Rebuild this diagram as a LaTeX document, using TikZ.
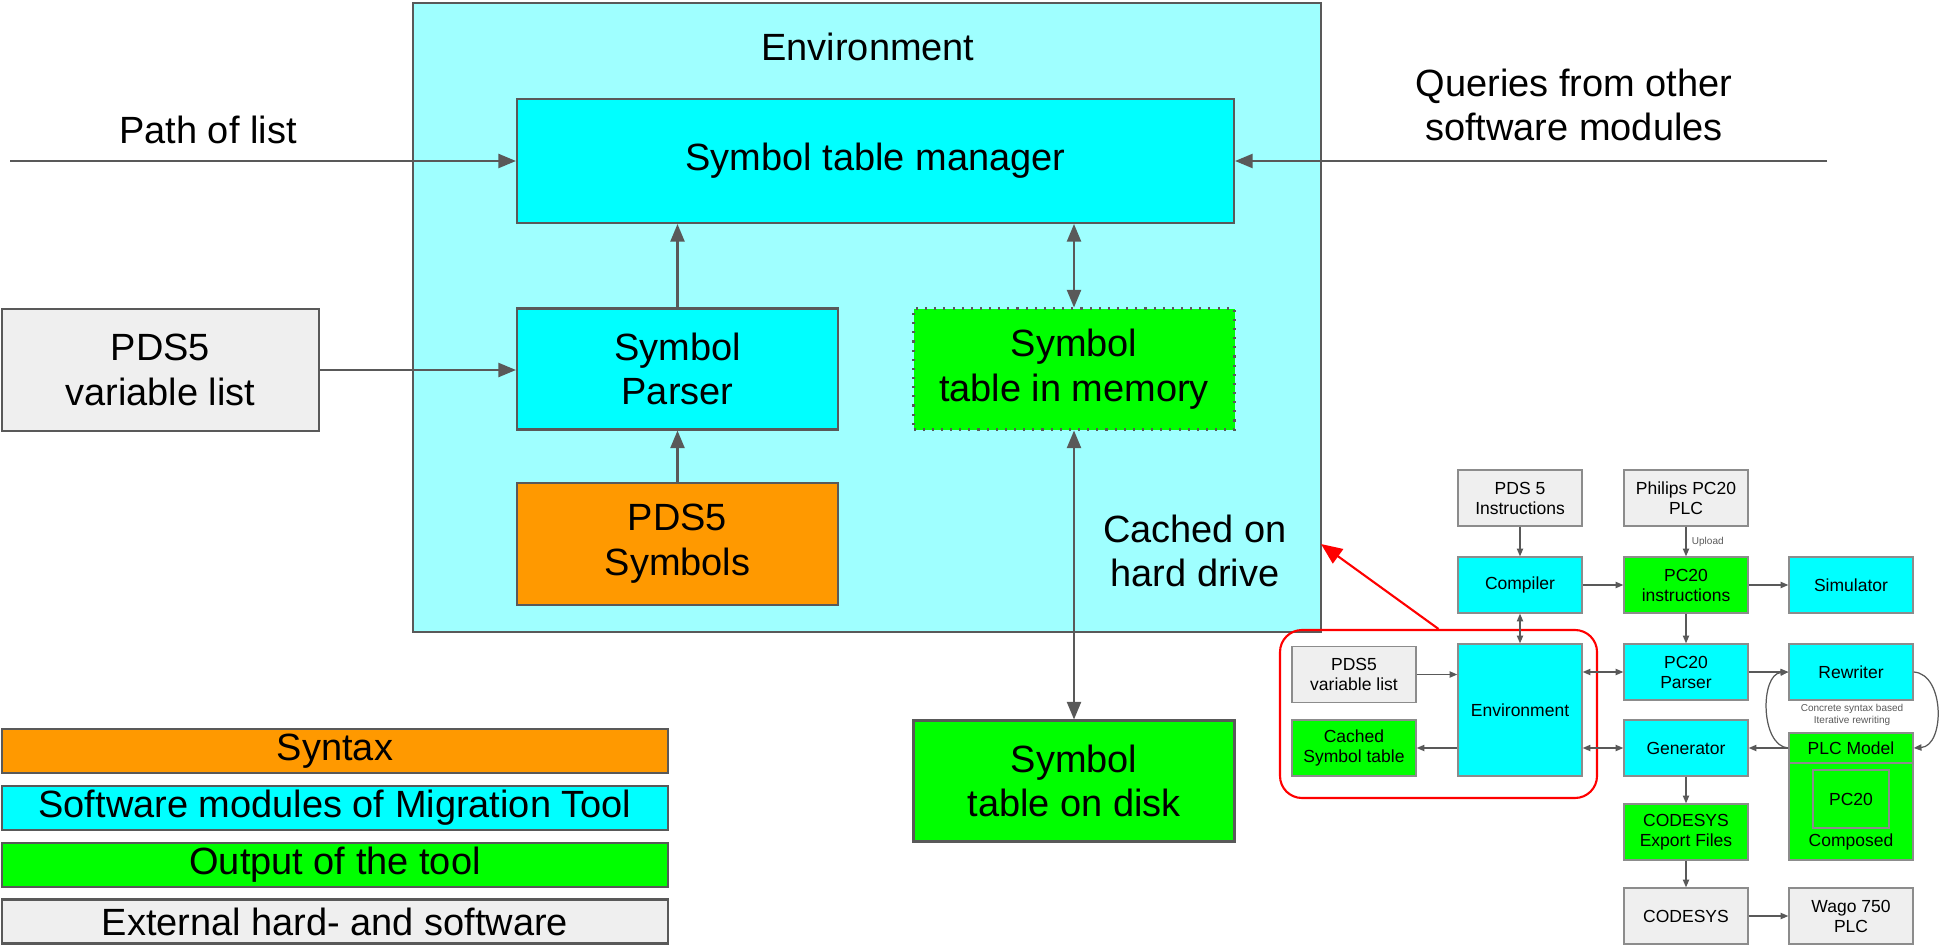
\documentclass[tikz,border=0pt]{standalone}
\usepackage{fontspec}
\setmainfont{Liberation Sans}
\usetikzlibrary{arrows.meta,calc,positioning}
\definecolor{envcyan}{HTML}{9FFFFF}
\definecolor{modcyan}{HTML}{00FFFF}
\definecolor{outgreen}{HTML}{00FF00}
\definecolor{synorange}{HTML}{FF9900}
\definecolor{extgrey}{HTML}{EFEFEF}
\definecolor{linegrey}{HTML}{595959}
\definecolor{boxgrey}{HTML}{8C8C8C}

\begin{document}
\begin{tikzpicture}[
  box/.style={draw=linegrey, line width=0.6pt, inner sep=0pt, align=center,
    font=\fontsize{10.8}{12.7}\selectfont},
  bigtext/.style={inner sep=0pt, align=center, font=\fontsize{10.8}{12.7}\selectfont},
  leg/.style={box, minimum width=6.66cm, minimum height=0.44cm},
  mid/.style={minimum width=3.21cm, minimum height=1.21cm},
  sbox/.style={draw=boxgrey, line width=0.4pt, inner sep=0pt, align=center,
    font=\fontsize{4.98}{5.7}\selectfont, minimum width=1.24cm, minimum height=0.56cm},
  tiny/.style={inner sep=0pt, align=center, font=\fontsize{2.85}{3.2}\selectfont, text=linegrey},
  arr/.style={draw=linegrey, line width=0.6pt, -{Triangle[length=5pt,width=4pt]}},
  darr/.style={arr, {Triangle[length=5pt,width=4pt]}-{Triangle[length=5pt,width=4pt]}},
  sarr/.style={draw=linegrey, line width=0.35pt, -{Triangle[length=2.2pt,width=1.8pt]}},
  sdarr/.style={sarr, {Triangle[length=2.2pt,width=1.8pt]}-{Triangle[length=2.2pt,width=1.8pt]}},
  redarr/.style={draw=red, line width=0.6pt, -{Triangle[length=6pt,width=5pt]}}]
\useasboundingbox (0,0) rectangle (19.40,9.46);

% environment and its parts
\node[box, fill=envcyan, minimum width=9.08cm, minimum height=6.29cm] (env) at (8.67,6.285) {};
\node[bigtext] (envtitle) at (8.68,8.99) {Environment};
\node[box, fill=modcyan, minimum width=7.17cm, minimum height=1.24cm] (stm) at (8.755,7.85) {Symbol table manager};
\node[box, fill=modcyan, mid] (parser) at (6.775,5.77) {Symbol\\Parser};
\node[box, fill=synorange, mid, minimum height=1.22cm] (symbols) at (6.775,4.02) {PDS5\\Symbols};
\node[box, fill=outgreen, mid, dotted] (memory) at (10.74,5.77) {Symbol\\table in memory};
\node[box, fill=extgrey, mid, minimum width=3.17cm, minimum height=1.22cm] (varlist) at (1.605,5.76) {PDS5\\variable list};
\node[box, fill=outgreen, mid] (disk) at (10.74,1.65) {Symbol\\table on disk};
\node[bigtext] (pathlabel) at (2.08,8.16) {Path of list};
\node[bigtext] (querylabel) at (15.74,8.41) {Queries from other\\software modules};
\node[bigtext] (cachedlabel) at (11.95,3.95) {Cached on\\hard drive};
\coordinate (pathin) at (0.10,7.85);
\coordinate (queryin) at (18.27,7.85);

\draw[arr] (pathin) -- (stm.west);
\draw[arr] (queryin) -- (stm.east);
\draw[arr] (varlist.east) -- (varlist.east -| parser.west);
\draw[arr] (parser.north) -- (parser.north |- stm.south);
\draw[arr] (symbols.north) -- (parser.south);
\draw[darr] (memory.north) -- (memory.north |- stm.south);
\draw[darr] (memory.south) -- (disk.north);

% legend
\node[leg, fill=synorange] (lsyn) at (3.35,1.95) {Syntax};
\node[leg, fill=modcyan] (lmod) at (3.35,1.38) {Software modules of Migration Tool};
\node[leg, fill=outgreen] (lout) at (3.35,0.81) {Output of the tool};
\node[leg, fill=extgrey] (lext) at (3.35,0.245) {External hard- and software};

% overview of the tool
\node[sbox, fill=extgrey] (instr) at (15.20,4.48) {PDS 5\\Instructions};
\node[sbox, fill=extgrey] (philips) at (16.86,4.48) {Philips PC20\\PLC};
\node[sbox, fill=modcyan] (compiler) at (15.20,3.61) {Compiler};
\node[sbox, fill=outgreen] (pcinstr) at (16.86,3.61) {PC20\\instructions};
\node[sbox, fill=modcyan] (simulator) at (18.51,3.61) {Simulator};
\node[sbox, fill=extgrey] (varlist2) at (13.54,2.715) {PDS5\\variable list};
\node[sbox, fill=outgreen] (cached) at (13.54,1.98) {Cached\\Symbol table};
\node[sbox, fill=modcyan, minimum height=1.32cm] (env2) at (15.20,2.36) {Environment};
\node[sbox, fill=modcyan] (pcparser) at (16.86,2.74) {PC20\\Parser};
\node[sbox, fill=modcyan] (rewriter) at (18.51,2.74) {Rewriter};
\node[sbox, fill=modcyan] (generator) at (16.86,1.98) {Generator};
\node[sbox, fill=outgreen] (export) at (16.86,1.14) {CODESYS\\Export Files};
\node[sbox, fill=extgrey] (codesys) at (16.86,0.30) {CODESYS};
\node[sbox, fill=extgrey] (wago) at (18.51,0.30) {Wago 750\\PLC};
\node[sbox, fill=outgreen, minimum height=0.97cm] (plcbody) at (18.51,1.345) {};
\node[sbox, fill=outgreen, minimum height=0.30cm] (plchead) at (18.51,1.98) {PLC Model};
\node[sbox, fill=outgreen, minimum width=0.76cm, minimum height=0.58cm] (pcinner) at (18.51,1.47) {PC20};
\node[inner sep=0pt, font=\fontsize{4.98}{5.7}\selectfont] (composed) at (18.51,1.04) {Composed};
\node[tiny] (rewritelabel) at (18.52,2.31) {Concrete syntax based\\Iterative rewriting};
\node[draw=red, line width=0.6pt, rounded corners=0.22cm, minimum width=3.17cm, minimum height=1.68cm] (frame) at (14.385,2.32) {};
\coordinate (hint) at (13.21,4.02);

\draw[sarr] (instr) -- (compiler);
\draw[sarr] (philips) -- node[tiny, right=1.5pt] {Upload} (pcinstr);
\draw[sarr] (compiler) -- (pcinstr);
\draw[sarr] (pcinstr) -- (simulator);
\draw[sarr] (pcinstr) -- (pcparser);
\draw[sdarr] (compiler) -- (env2);
\draw[sarr] (varlist2.east) -- (varlist2.east -| env2.west);
\draw[sarr] (env2.west |- cached) -- (cached.east);
\draw[sdarr] (env2.east |- pcparser) -- (pcparser.west);
\draw[sdarr] (env2.east |- generator) -- (generator.west);
\draw[sarr] (pcparser) -- (rewriter);
\draw[sarr] (plchead) -- (generator);
\draw[sarr] (generator) -- (export);
\draw[sarr] (export) -- (codesys);
\draw[sarr] (codesys) -- (wago);
\draw[sarr] (plchead.west) .. controls (17.60,2.00) and (17.60,2.72) .. (rewriter.west);
\draw[sarr] (rewriter.east) .. controls (19.45,2.72) and (19.45,2.00) .. (plchead.east);
\draw[redarr] (frame.north) -- (hint);
\end{tikzpicture}
\end{document}
